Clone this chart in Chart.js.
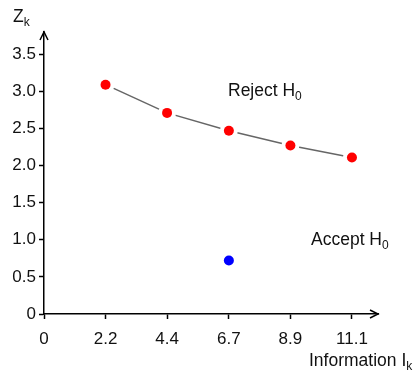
<!DOCTYPE html>
<html>
<head>
<meta charset="utf-8">
<script src="https://cdn.jsdelivr.net/npm/chart.js@4/dist/chart.umd.min.js"></script>
<style>
  body { margin: 0; background: #fff; }
  #wrap { width: 418px; height: 374px; position: relative; }
</style>
</head>
<body>
<div id="wrap"><canvas id="zk-chart"></canvas></div>
<script>
// information levels and boundary values
const info = [2.22, 4.44, 6.67, 8.89, 11.11];
const boundary = [3.09, 2.71, 2.47, 2.27, 2.11];
const observedInfo = [6.67];
const observedZ = [0.72];
const xTicks = [0, 2.22, 4.44, 6.67, 8.89, 11.11];
const yTicks = [0, 0.5, 1.0, 1.5, 2.0, 2.5, 3.0, 3.5];

const FONT = "'Liberation Sans', Arial, sans-serif";

function pts(xs, ys){
    return xs.map((x, i) => ({x: x, y: ys[i]}));
}

// arrows on the axes + free text labels
const decorations = {
    id: "decorations",
    afterDraw(chart){
        let ctx = chart.ctx;
        let a = chart.chartArea;
        ctx.save();
        ctx.strokeStyle = "#000";
        ctx.lineWidth = 1.5;
        ctx.beginPath();
        ctx.moveTo(a.left - 4, a.top + 8);
        ctx.lineTo(a.left, a.top);
        ctx.lineTo(a.left + 4, a.top + 8);
        ctx.moveTo(a.right - 8, a.bottom - 4);
        ctx.lineTo(a.right, a.bottom);
        ctx.lineTo(a.right - 8, a.bottom + 4);
        ctx.stroke();

        ctx.fillStyle = "#111";
        ctx.textBaseline = "alphabetic";
        ctx.textAlign = "left";
        function sub(main, small, x, y){
            ctx.font = "17.5px " + FONT;
            ctx.fillText(main, x, y);
            let w = ctx.measureText(main).width;
            ctx.font = "12px " + FONT;
            ctx.fillText(small, x + w, y + 4);
        }
        sub("Z", "k", 13, 22);
        sub("Reject H", "0", 228, 96);
        sub("Accept H", "0", 311, 245);
        sub("Information I", "k", 309, 366);
        ctx.restore();
    }
};

new Chart(document.querySelector("#zk-chart"), {
    type: "scatter",
    data: {
        datasets: [
            {
                // gray connecting line, white halo to leave gaps at the dots
                type: "line",
                data: pts(info, boundary),
                borderColor: "#666",
                borderWidth: 1.5,
                pointRadius: 9,
                pointBackgroundColor: "#fff",
                pointBorderWidth: 0,
                showLine: true,
                tension: 0,
                order: 3
            },
            {
                data: pts(info, boundary),
                pointRadius: 5,
                pointBackgroundColor: "#ff0000",
                pointBorderWidth: 0,
                order: 2
            },
            {
                data: pts(observedInfo, observedZ),
                pointRadius: 5,
                pointBackgroundColor: "#0000ff",
                pointBorderWidth: 0,
                order: 1
            }
        ]
    },
    options: {
        responsive: true,
        maintainAspectRatio: false,
        animation: false,
        layout: { padding: { top: 32, right: 40, left: 0, bottom: 0 } },
        plugins: { legend: { display: false }, tooltip: { enabled: false } },
        scales: {
            x: {
                type: "linear",
                min: 0,
                max: 12.05,
                afterBuildTicks: (s) => { s.ticks = xTicks.map(v => ({value: v})); },
                afterFit: (s) => { s.height = 60; },
                ticks: {
                    callback: (v) => v === 0 ? "0" : v.toFixed(1),
                    color: "#111",
                    font: { family: FONT, size: 17 },
                    padding: 10,
                    maxRotation: 0
                },
                grid: { drawOnChartArea: false, tickLength: 5, tickColor: "#000", tickWidth: 1.5 },
                border: { color: "#000", width: 1.5 }
            },
            y: {
                min: 0,
                max: 3.8,
                afterBuildTicks: (s) => { s.ticks = yTicks.map(v => ({value: v})); },
                afterFit: (s) => { s.width = 44; },
                ticks: {
                    callback: (v) => v === 0 ? "0" : v.toFixed(1),
                    color: "#111",
                    font: { family: FONT, size: 17 },
                    padding: 3
                },
                grid: { drawOnChartArea: false, tickLength: 5, tickColor: "#000", tickWidth: 1.5 },
                border: { color: "#000", width: 1.5 }
            }
        }
    },
    plugins: [decorations]
});
</script>
</body>
</html>
